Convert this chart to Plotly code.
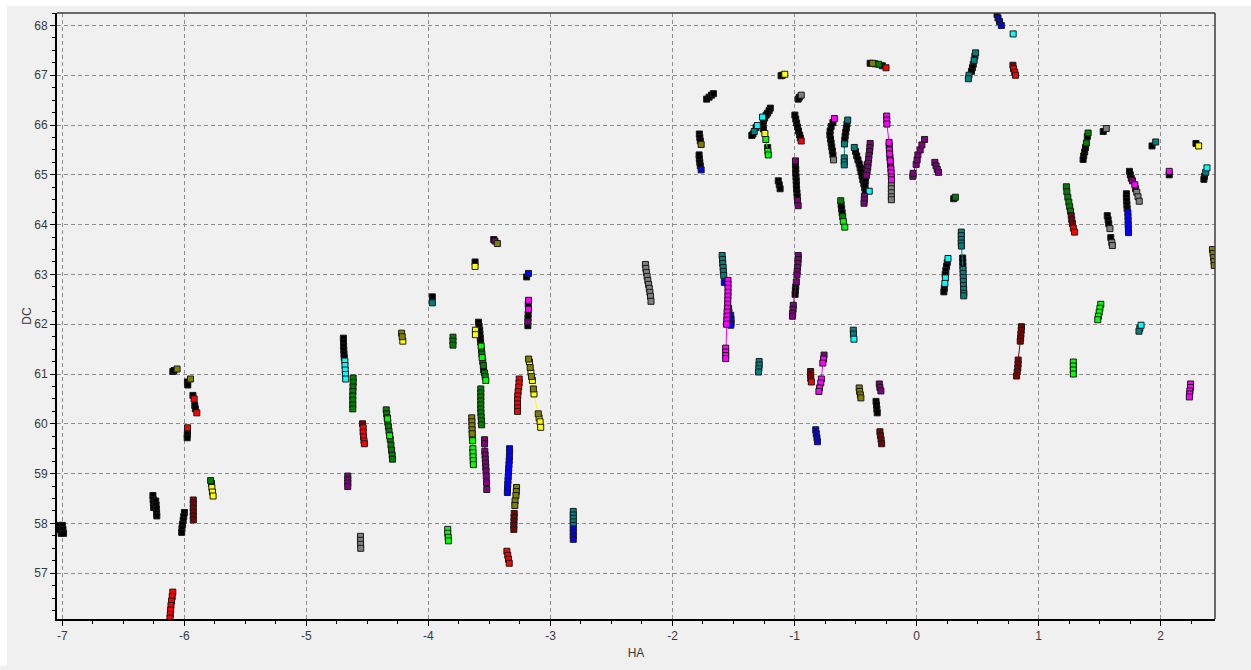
import plotly.graph_objects as go

# Each list holds the tracks of one colour; a track is a list of (HA, DC) points.
black_tracks = [
    [(-7.025, 57.96), (-7.02, 57.88), (-7.01, 57.8)],
    [(-7.0, 57.96), (-6.995, 57.88), (-6.99, 57.8)],
    [(-6.258, 58.56), (-6.256, 58.48), (-6.254, 58.4), (-6.252, 58.32)],
    [(-6.235, 58.45), (-6.232, 58.37), (-6.23, 58.29), (-6.228, 58.21), (-6.226, 58.15)],
    [(-6.095, 61.05), (-6.085, 61.07)],
    [(-5.975, 60.84), (-5.972, 60.78)],
    [(-5.93, 60.57)],
    [(-5.915, 60.37), (-5.91, 60.3)],
    [(-5.975, 59.84), (-5.976, 59.78), (-5.977, 59.72)],
    [(-6.0, 58.22), (-6.005, 58.14), (-6.01, 58.06), (-6.015, 57.98), (-6.02, 57.9), (-6.022, 57.82)],
    [(-5.778, 58.8)],
    [(-4.697, 61.72), (-4.696, 61.64), (-4.695, 61.56), (-4.694, 61.48), (-4.692, 61.4), (-4.69, 61.33)],
    [(-3.968, 62.55)],
    [(-3.59, 62.04), (-3.585, 61.96), (-3.58, 61.88), (-3.578, 61.8), (-3.575, 61.72), (-3.572, 61.64)],
    [(-3.548, 61.08)],
    [(-3.618, 63.25)],
    [(-3.465, 63.7)],
    [(-3.195, 62.95)],
    [(-3.182, 62.4)],
    [(-3.183, 62.2), (-3.184, 62.12)],
    [(-3.185, 61.97)],
    [(-1.54, 62.32), (-1.538, 62.24)],
    [(-0.99, 62.75), (-0.993, 62.68), (-0.995, 62.6)],
    [(-0.332, 60.45), (-0.328, 60.38), (-0.325, 60.3), (-0.322, 60.22)],
    [(-1.72, 66.52), (-1.7, 66.56), (-1.68, 66.6), (-1.665, 66.63)],
    [(-1.78, 65.82), (-1.776, 65.75), (-1.772, 65.68)],
    [(-1.782, 65.4), (-1.78, 65.32), (-1.776, 65.25), (-1.772, 65.18)],
    [(-1.11, 66.99), (-1.1, 67.0)],
    [(-0.97, 66.52), (-0.96, 66.56)],
    [(-1.198, 66.34), (-1.208, 66.29), (-1.22, 66.24), (-1.232, 66.2), (-1.245, 66.14), (-1.255, 66.08)],
    [(-1.315, 65.95), (-1.34, 65.82), (-1.35, 65.79)],
    [(-1.258, 66.0), (-1.255, 65.92)],
    [(-1.22, 65.55)],
    [(-0.997, 66.2), (-0.99, 66.12), (-0.983, 66.04), (-0.975, 65.96), (-0.967, 65.88), (-0.958, 65.8), (-0.952, 65.74)],
    [(-0.992, 65.2), (-0.99, 65.12), (-0.99, 65.04), (-0.988, 64.96), (-0.986, 64.88), (-0.985, 64.8),
     (-0.983, 64.72), (-0.98, 64.64), (-0.978, 64.56)],
    [(-1.133, 64.88), (-1.125, 64.8), (-1.118, 64.72)],
    [(-0.685, 66.05), (-0.7, 65.97), (-0.708, 65.88), (-0.71, 65.8), (-0.705, 65.72), (-0.7, 65.64),
     (-0.695, 65.56), (-0.69, 65.48), (-0.685, 65.4)],
    [(-0.57, 66.02), (-0.575, 65.94), (-0.58, 65.86), (-0.585, 65.78), (-0.588, 65.7)],
    [(-0.5, 65.47), (-0.49, 65.38), (-0.48, 65.3), (-0.47, 65.22), (-0.462, 65.14), (-0.455, 65.06),
     (-0.447, 64.98), (-0.44, 64.9), (-0.432, 64.82), (-0.425, 64.74), (-0.42, 64.68)],
    [(-0.405, 65.2), (-0.41, 65.12), (-0.414, 65.04), (-0.418, 64.96), (-0.42, 64.88), (-0.422, 64.8)],
    [(-0.224, 65.58)],
    [(-0.218, 65.35)],
    [(-0.213, 65.2)],
    [(0.305, 64.52)],
    [(-0.38, 67.24)],
    [(-0.34, 67.23)],
    [(-0.28, 67.19)],
    [(0.478, 67.38)],
    [(0.465, 67.22), (0.458, 67.15), (0.45, 67.08)],
    [(0.66, 68.22)],
    [(1.4, 65.77)],
    [(1.385, 65.55), (1.378, 65.46), (1.37, 65.38), (1.365, 65.31)],
    [(1.53, 65.87)],
    [(1.93, 65.58)],
    [(2.29, 65.63)],
    [(2.071, 65.0)],
    [(2.36, 64.97), (2.355, 64.91)],
    [(1.745, 65.07), (1.752, 65.0), (1.76, 64.93)],
    [(1.795, 64.72)],
    [(1.72, 64.62), (1.72, 64.55), (1.722, 64.48), (1.724, 64.4), (1.726, 64.32)],
    [(1.563, 64.18), (1.57, 64.1), (1.575, 64.02)],
    [(1.592, 63.74)],
    [(0.252, 63.24), (0.246, 63.16), (0.24, 63.08), (0.235, 63.0)],
    [(0.228, 62.72), (0.224, 62.65)],
    [(0.378, 63.33), (0.379, 63.25), (0.38, 63.17)],
    [(-0.618, 64.4), (-0.614, 64.32), (-0.61, 64.24)],
]

gray_tracks = [
    [(-4.557, 57.74), (-4.557, 57.66), (-4.556, 57.58), (-4.555, 57.5)],
    [(-2.222, 63.2), (-2.218, 63.12), (-2.214, 63.04), (-2.208, 62.96), (-2.202, 62.88),
     (-2.196, 62.8), (-2.19, 62.72), (-2.185, 62.64), (-2.18, 62.56), (-2.176, 62.46)],
    [(-0.945, 66.6)],
    [(-0.68, 65.3)],
    [(-0.206, 64.8), (-0.206, 64.72), (-0.206, 64.64), (-0.206, 64.56), (-0.206, 64.5)],
    [(1.555, 65.93)],
    [(1.805, 64.65), (1.815, 64.56), (1.825, 64.47)],
    [(1.585, 63.92)],
    [(1.6, 63.64), (1.605, 63.58)],
]

teal_tracks = [
    [(-3.968, 62.43)],
    [(-2.813, 58.24), (-2.813, 58.17), (-2.813, 58.1), (-2.813, 58.03), (-2.813, 57.96)],
    [(-1.593, 63.38), (-1.59, 63.3), (-1.588, 63.22), (-1.585, 63.14), (-1.583, 63.06), (-1.58, 62.98)],
    [(-1.29, 61.25), (-1.29, 61.18), (-1.292, 61.11), (-1.295, 61.04)],
    [(-0.518, 61.88), (-0.517, 61.8)],
    [(-1.33, 65.87)],
    [(-0.564, 66.1)],
    [(-0.591, 65.62), (-0.592, 65.34), (-0.592, 65.26), (-0.592, 65.2)],
    [(-0.51, 65.55)],
    [(0.484, 67.45)],
    [(0.472, 67.3)],
    [(0.43, 67.0), (0.425, 66.93)],
    [(1.96, 65.66)],
    [(2.37, 65.05)],
    [(1.83, 61.92), (1.823, 61.86)],
    [(0.367, 63.85), (0.367, 63.78), (0.367, 63.7), (0.367, 63.63), (0.368, 63.57), (0.381, 63.1),
     (0.382, 63.02), (0.383, 62.94), (0.384, 62.86), (0.385, 62.78), (0.386, 62.7), (0.387, 62.62), (0.387, 62.57)],
]

cyan_tracks = [
    [(-4.685, 61.26), (-4.684, 61.17), (-4.682, 61.08), (-4.68, 60.99), (-4.678, 60.9)],
    [(-0.513, 61.7)],
    [(-1.262, 66.16)],
    [(-1.305, 65.99)],
    [(-0.388, 64.67)],
    [(0.792, 67.83)],
    [(2.38, 65.14)],
    [(1.84, 61.98)],
    [(0.258, 63.32)],
    [(0.237, 62.93), (0.232, 62.82)],
]

green_tracks = [
    [(-5.785, 58.86)],
    [(-4.617, 60.92), (-4.617, 60.83), (-4.618, 60.74), (-4.619, 60.65), (-4.62, 60.56),
     (-4.62, 60.47), (-4.62, 60.38), (-4.62, 60.3)],
    [(-4.346, 60.28), (-4.342, 60.2), (-4.338, 60.12), (-4.333, 60.03), (-4.328, 59.94), (-4.323, 59.85),
     (-4.318, 59.77), (-4.313, 59.69), (-4.307, 59.57), (-4.302, 59.47), (-4.297, 59.37), (-4.294, 59.29)],
    [(-3.799, 61.74), (-3.799, 61.66), (-3.799, 61.58)],
    [(-3.565, 61.48), (-3.562, 61.4)],
    [(-3.555, 61.25), (-3.55, 61.17)],
    [(-3.54, 61.02), (-3.535, 60.95)],
    [(-3.571, 60.7), (-3.571, 60.62), (-3.571, 60.54), (-3.571, 60.46), (-3.571, 60.38),
     (-3.571, 60.3), (-3.57, 60.22), (-3.568, 60.14), (-3.566, 60.06), (-3.564, 59.98)],
    [(0.318, 64.55)],
    [(-0.31, 67.22)],
    [(1.406, 65.84)],
    [(1.392, 65.64)],
    [(1.228, 64.76), (1.232, 64.66), (1.24, 64.55), (1.248, 64.45), (1.255, 64.36), (1.262, 64.27)],
    [(-0.621, 64.48)],
    [(-0.605, 64.16)],
]

lime_tracks = [
    [(-4.335, 60.1)],
    [(-4.318, 59.76)],
    [(-3.842, 57.88), (-3.842, 57.8), (-3.838, 57.72), (-3.836, 57.65)],
    [(-3.568, 61.56)],
    [(-3.56, 61.33)],
    [(-3.53, 60.87)],
    [(-3.64, 59.74), (-3.638, 59.66), (-3.636, 59.5), (-3.635, 59.42), (-3.634, 59.34),
     (-3.633, 59.26), (-3.632, 59.18)],
    [(-1.235, 65.71), (-1.218, 65.47), (-1.215, 65.4)],
    [(-0.6, 64.06), (-0.588, 63.95)],
    [(1.51, 62.4), (1.503, 62.32), (1.497, 62.24), (1.49, 62.16), (1.485, 62.09)],
    [(1.285, 61.24), (1.285, 61.16), (1.285, 61.08), (1.285, 61.0)],
]

maroon_tracks = [
    [(-5.927, 58.47), (-5.927, 58.39), (-5.927, 58.31), (-5.927, 58.23), (-5.927, 58.15), (-5.927, 58.07)],
    [(-4.54, 60.0)],
    [(-3.297, 58.2), (-3.298, 58.12), (-3.299, 58.04), (-3.3, 57.96), (-3.3, 57.88)],
    [(-0.868, 61.05), (-0.868, 60.98), (-0.867, 60.91)],
    [(-0.3, 59.84), (-0.296, 59.76), (-0.29, 59.68), (-0.286, 59.6)],
    [(0.79, 67.2)],
    [(1.268, 64.18), (1.272, 64.1), (1.278, 64.02)],
    [(0.86, 61.95), (0.858, 61.88), (0.855, 61.8), (0.853, 61.72), (0.85, 61.66), (0.833, 61.28),
     (0.832, 61.2), (0.83, 61.12), (0.825, 61.04), (0.82, 60.96)],
]

red_tracks = [
    [(-6.095, 56.62), (-6.1, 56.53), (-6.105, 56.44), (-6.11, 56.35), (-6.113, 56.26), (-6.116, 56.17), (-6.118, 56.1)],
    [(-5.92, 60.5)],
    [(-5.898, 60.22)],
    [(-5.974, 59.92)],
    [(-4.535, 59.92), (-4.535, 59.83), (-4.532, 59.74), (-4.528, 59.66), (-4.525, 59.6)],
    [(-3.357, 57.44), (-3.35, 57.36), (-3.344, 57.28), (-3.338, 57.2)],
    [(-3.256, 60.9), (-3.257, 60.82), (-3.26, 60.74), (-3.265, 60.65), (-3.268, 60.56),
     (-3.27, 60.48), (-3.27, 60.4), (-3.27, 60.32), (-3.27, 60.25)],
    [(-0.862, 60.84)],
    [(-0.945, 65.68)],
    [(-0.25, 67.15)],
    [(0.795, 67.13), (0.805, 67.06), (0.811, 67.0)],
    [(1.285, 63.93), (1.295, 63.85)],
]

blue_tracks = [
    [(-3.335, 59.5), (-3.335, 59.42), (-3.336, 59.34), (-3.338, 59.26), (-3.34, 59.18), (-3.342, 59.1),
     (-3.344, 59.02), (-3.346, 58.94), (-3.348, 58.86), (-3.35, 58.78), (-3.352, 58.7), (-3.353, 58.62)],
    [(-3.18, 63.02)],
    [(-2.813, 57.89), (-2.813, 57.82), (-2.813, 57.75), (-2.813, 57.68)],
    [(-1.575, 62.84)],
    [(-1.523, 62.18), (-1.52, 62.1), (-1.52, 62.02), (-1.522, 61.98)],
    [(-0.826, 59.88), (-0.822, 59.8), (-0.816, 59.72), (-0.812, 59.64)],
    [(-1.765, 65.1)],
    [(0.668, 68.15), (0.68, 68.08), (0.695, 68.0)],
    [(1.732, 64.24), (1.733, 64.16), (1.734, 64.08), (1.735, 64.0), (1.736, 63.92), (1.737, 63.84)],
]

purple_tracks = [
    [(-4.661, 58.95), (-4.661, 58.88), (-4.661, 58.81), (-4.661, 58.74)],
    [(-3.54, 59.68), (-3.54, 59.6), (-3.538, 59.45), (-3.536, 59.37), (-3.534, 59.29), (-3.532, 59.21),
     (-3.53, 59.13), (-3.528, 59.05), (-3.526, 58.95), (-3.524, 58.82), (-3.522, 58.68)],
    [(-3.185, 62.05)],
    [(-3.455, 63.67)],
    [(-0.969, 63.38), (-0.97, 63.3), (-0.972, 63.22), (-0.975, 63.14), (-0.978, 63.06), (-0.98, 62.99),
     (-0.985, 62.85), (-1.01, 62.38), (-1.012, 62.3), (-1.015, 62.22), (-1.017, 62.16)],
    [(-0.758, 61.38)],
    [(-0.305, 60.8), (-0.3, 60.73), (-0.292, 60.66)],
    [(-0.992, 65.28)],
    [(-0.975, 64.48), (-0.97, 64.38)],
    [(-0.38, 65.63), (-0.382, 65.55), (-0.385, 65.47), (-0.39, 65.39), (-0.393, 65.31), (-0.397, 65.23),
     (-0.4, 65.15), (-0.405, 65.07), (-0.41, 64.99)],
    [(-0.427, 64.57), (-0.428, 64.5), (-0.43, 64.43)],
    [(-0.03, 64.97), (-0.028, 65.03), (-0.003, 65.21), (0.005, 65.3), (0.011, 65.4), (0.03, 65.5),
     (0.044, 65.6), (0.066, 65.71)],
    [(0.15, 65.25), (0.16, 65.18), (0.17, 65.11), (0.18, 65.05)],
    [(1.77, 64.88)],
]

magenta_tracks = [
    [(-3.18, 62.48)],
    [(-3.18, 62.3)],
    [(-1.545, 62.88), (-1.545, 62.8), (-1.545, 62.72), (-1.545, 62.64), (-1.546, 62.56), (-1.547, 62.48),
     (-1.548, 62.4), (-1.55, 62.32), (-1.552, 62.24), (-1.553, 62.16), (-1.555, 62.08), (-1.557, 62.0),
     (-1.564, 61.52), (-1.564, 61.44), (-1.564, 61.37), (-1.564, 61.31)],
    [(-0.762, 61.3), (-0.768, 61.22), (-0.78, 60.9), (-0.785, 60.82), (-0.795, 60.72), (-0.8, 60.65)],
    [(-0.673, 66.13)],
    [(-0.245, 66.18), (-0.244, 66.1), (-0.243, 66.02), (-0.225, 65.65), (-0.222, 65.5), (-0.22, 65.42),
     (-0.215, 65.28), (-0.21, 65.12), (-0.208, 65.04), (-0.206, 64.96), (-0.205, 64.9)],
    [(2.071, 65.07)],
    [(1.789, 64.8)],
    [(2.246, 60.8), (2.245, 60.73), (2.24, 60.66), (2.238, 60.6), (2.236, 60.54)],
]

yellow_tracks = [
    [(-5.775, 58.72), (-5.77, 58.63), (-5.765, 58.55)],
    [(-4.21, 61.66)],
    [(-3.615, 61.88), (-3.615, 61.79)],
    [(-3.618, 63.16)],
    [(-3.172, 61.24), (-3.16, 61.03), (-3.148, 60.87), (-3.135, 60.6), (-3.093, 60.12),
     (-3.085, 60.04), (-3.08, 59.93)],
    [(-1.08, 67.02)],
    [(-1.243, 65.83)],
    [(2.312, 65.58)],
]

olive_tracks = [
    [(-6.06, 61.1)],
    [(-5.95, 60.9)],
    [(-4.22, 61.82), (-4.215, 61.75)],
    [(-3.645, 60.12), (-3.644, 60.04), (-3.643, 59.96), (-3.642, 59.88), (-3.641, 59.8)],
    [(-3.278, 58.72), (-3.28, 58.64), (-3.283, 58.56)],
    [(-3.29, 58.45), (-3.292, 58.36)],
    [(-3.435, 63.62)],
    [(-3.179, 61.3)],
    [(-3.166, 61.13)],
    [(-3.155, 60.95)],
    [(-3.14, 60.7)],
    [(-3.1, 60.2)],
    [(-0.47, 60.72), (-0.466, 60.65), (-0.46, 60.58), (-0.456, 60.52)],
    [(-1.765, 65.61)],
    [(-0.36, 67.24)],
    [(2.425, 63.5), (2.43, 63.42), (2.435, 63.34), (2.438, 63.26), (2.44, 63.18)],
]

# drawing order and fill colours of the series
series = [
    (black_tracks, "#000000"),
    (gray_tracks, "#808080"),
    (teal_tracks, "#008080"),
    (cyan_tracks, "#00ffff"),
    (green_tracks, "#008000"),
    (lime_tracks, "#00ff00"),
    (maroon_tracks, "#800000"),
    (red_tracks, "#ff0000"),
    (blue_tracks, "#0000ff"),
    (purple_tracks, "#800080"),
    (magenta_tracks, "#ff00ff"),
    (yellow_tracks, "#ffff00"),
    (olive_tracks, "#808000"),
]

x_ticks = [-7, -6, -5, -4, -3, -2, -1, 0, 1, 2]
y_ticks = [57, 58, 59, 60, 61, 62, 63, 64, 65, 66, 67, 68]


def flatten(tracks):
    xs, ys = [], []
    for t in tracks:
        for x, y in t:
            xs.append(x)
            ys.append(y)
        xs.append(None)
        ys.append(None)
    return xs, ys


fig = go.Figure()
for tracks, colour in series:
    xs, ys = flatten(tracks)
    fig.add_trace(go.Scatter(
        x=xs, y=ys, mode="lines+markers", connectgaps=False,
        line=dict(color=colour, width=1),
        marker=dict(symbol="square", size=6, color=colour,
                    line=dict(color="#1a1a1a", width=1)),
        hoverinfo="x+y", showlegend=False,
    ))

axis_font = dict(family="Liberation Sans, Arial, sans-serif", size=12, color="#3a3a3a")
grid_common = dict(
    showgrid=True, gridcolor="#8e8e8e", gridwidth=1, griddash="4px,3px",
    zeroline=False, showline=True, linecolor="#000000", linewidth=2,
    ticks="outside", ticklen=5, tickcolor="#000000", tickwidth=1,
    tickfont=axis_font,
)

fig.update_layout(
    width=1251, height=670,
    margin=dict(l=57, r=36, t=13, b=47),
    paper_bgcolor="#f0f0f0", plot_bgcolor="#f0f0f0",
    xaxis=dict(range=[-7.044, 2.446], tickvals=x_ticks, ticktext=[str(v) for v in x_ticks],
               title=dict(text="HA", font=axis_font, standoff=6),
               minor=dict(dtick=0.25, tick0=0, ticks="outside", ticklen=3, tickcolor="#000000", showgrid=False),
               **grid_common),
    yaxis=dict(range=[56.08, 68.25], tickvals=y_ticks, ticktext=[str(v) for v in y_ticks],
               title=dict(text="DC", font=axis_font, standoff=0),
               minor=dict(dtick=0.25, tick0=0, ticks="outside", ticklen=3, tickcolor="#000000", showgrid=False),
               **grid_common),
    shapes=[
        dict(type="line", xref="paper", yref="paper", x0=0, x1=1, y0=1, y1=1,
             line=dict(color="#3c3c3c", width=1.5)),
        dict(type="line", xref="paper", yref="paper", x0=1, x1=1, y0=0, y1=1,
             line=dict(color="#3c3c3c", width=1.5)),
        # white margin strips along the top and left edges of the window
        dict(type="rect", xref="paper", yref="paper", x0=-57 / 1158, x1=1 + 36 / 1158,
             y0=1 + 7 / 610, y1=1 + 13 / 610, line=dict(width=0), fillcolor="#ffffff", layer="below"),
        dict(type="rect", xref="paper", yref="paper", x0=-57 / 1158, x1=-50 / 1158,
             y0=-47 / 610, y1=1 + 13 / 610, line=dict(width=0), fillcolor="#ffffff", layer="below"),
    ],
)

fig.write_html("out.html")
